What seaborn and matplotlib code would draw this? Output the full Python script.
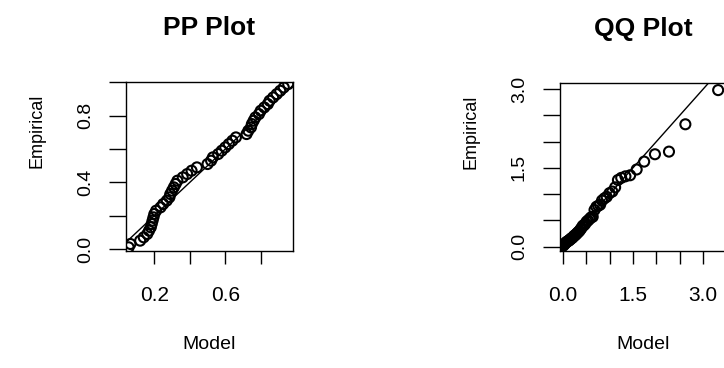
import matplotlib
matplotlib.use("Agg")
import matplotlib.pyplot as plt
import seaborn as sns
import pandas as pd

# Empirical probabilities (plotting positions) shared by both panels
emp_prob = [0.01, 0.03, 0.05, 0.07, 0.09, 0.11, 0.13, 0.15, 0.17, 0.19,
            0.21, 0.23, 0.25, 0.27, 0.29, 0.31, 0.33, 0.35, 0.37, 0.39,
            0.41, 0.43, 0.45, 0.47, 0.49, 0.51, 0.53, 0.55, 0.57, 0.59,
            0.61, 0.63, 0.65, 0.67, 0.69, 0.71, 0.73, 0.75, 0.77, 0.79,
            0.81, 0.83, 0.85, 0.87, 0.89, 0.91, 0.93, 0.95, 0.97, 0.99]

# Fitted-model probabilities at each observation (PP panel, x axis)
model_prob = [0.055, 0.065, 0.12, 0.14, 0.16, 0.17, 0.18, 0.185, 0.19, 0.195,
              0.20, 0.21, 0.235, 0.25, 0.27, 0.285, 0.29, 0.30, 0.31, 0.32,
              0.33, 0.36, 0.385, 0.41, 0.44, 0.50, 0.52, 0.53, 0.56, 0.58,
              0.60, 0.62, 0.64, 0.66, 0.72, 0.73, 0.745, 0.75, 0.76, 0.77,
              0.79, 0.80, 0.82, 0.84, 0.85, 0.87, 0.89, 0.91, 0.93, 0.955]

# Theoretical quantiles of the fitted model (QQ panel, x axis)
model_quant = [0.007, 0.022, 0.037, 0.052, 0.068, 0.084, 0.100, 0.117, 0.134, 0.152,
               0.170, 0.188, 0.207, 0.226, 0.246, 0.267, 0.288, 0.310, 0.332, 0.356,
               0.380, 0.404, 0.430, 0.457, 0.484, 0.513, 0.543, 0.575, 0.607, 0.641,
               0.68, 0.72, 0.76, 0.80, 0.84, 0.89, 0.94, 1.00, 1.06, 1.12,
               1.18, 1.25, 1.34, 1.44, 1.58, 1.74, 1.97, 2.27, 2.62, 3.32]

# Sorted sample values (QQ panel, y axis)
emp_quant = [0.02, 0.03, 0.05, 0.06, 0.08, 0.09, 0.10, 0.11, 0.12, 0.13,
             0.15, 0.16, 0.17, 0.19, 0.21, 0.22, 0.24, 0.26, 0.28, 0.30,
             0.33, 0.36, 0.40, 0.41, 0.44, 0.48, 0.50, 0.53, 0.56, 0.57,
             0.70, 0.76, 0.78, 0.80, 0.88, 0.92, 0.95, 1.02, 1.05, 1.13,
             1.27, 1.31, 1.34, 1.36, 1.47, 1.62, 1.76, 1.81, 2.33, 2.98]

pp_ticks = [0.0, 0.2, 0.4, 0.6, 0.8, 1.0]
pp_xlabels = ["", "0.2", "", "0.6", "", ""]
pp_ylabels = ["0.0", "", "0.4", "", "0.8", ""]
qq_ticks = [0.0, 0.5, 1.0, 1.5, 2.0, 2.5, 3.0, 3.5]
qq_labels = ["0.0", "", "", "1.5", "", "", "3.0", ""]

sns.set_theme(style="white")
plt.rcParams["font.family"] = ["Liberation Sans", "DejaVu Sans"]
plt.rcParams["text.color"] = "black"
plt.rcParams["axes.labelcolor"] = "black"
plt.rcParams["axes.titlecolor"] = "black"

pp = pd.DataFrame({"Model": model_prob, "Empirical": emp_prob})
qq = pd.DataFrame({"Model": model_quant, "Empirical": emp_quant})

fig = plt.figure(figsize=(7.24, 3.68), dpi=100)
ax_pp = fig.add_axes([0.174, 0.318, 0.2302, 0.458])
ax_qq = fig.add_axes([0.7735, 0.318, 0.2307, 0.4557])

for ax, df, title in [(ax_pp, pp, "PP Plot"), (ax_qq, qq, "QQ Plot")]:
    ax.axline((0, 0), slope=1, color="black", lw=1.0, zorder=1)
    sns.scatterplot(data=df, x="Model", y="Empirical", ax=ax, marker="o",
                    s=52, facecolors="none", edgecolor="black",
                    linewidth=1.5, zorder=2)
    ax.set_title(title, fontsize=19, fontweight="bold", pad=34)
    ax.set_xlabel("Model", fontsize=14, labelpad=22)
    ax.set_ylabel("Empirical", fontsize=13)
    ax.yaxis.set_label_coords(-0.48, 0.71)
    for sp in ax.spines.values():
        sp.set_visible(True)
        sp.set_color("black")
        sp.set_linewidth(1.0)
    ax.tick_params(axis="x", direction="out", length=9.4, width=1.0,
                   pad=16, labelsize=15, colors="black", bottom=True)
    ax.tick_params(axis="y", direction="out", length=12.2, width=1.0,
                   pad=11, labelsize=14, colors="black", left=True)
    ax.set_facecolor("white")

ax_pp.set_xticks(pp_ticks, pp_xlabels)
ax_pp.set_yticks(pp_ticks, pp_ylabels, rotation=90, va="center")
ax_pp.set_xlim(0.04, 0.98)
ax_pp.set_ylim(-0.012, 1.0)

ax_qq.set_xticks(qq_ticks, qq_labels)
ax_qq.set_yticks(qq_ticks, qq_labels, rotation=90, va="center")
ax_qq.set_xlim(-0.057, 3.51)
ax_qq.set_ylim(-0.08, 3.11)

fig.savefig("out.png", dpi=100, facecolor="white")
